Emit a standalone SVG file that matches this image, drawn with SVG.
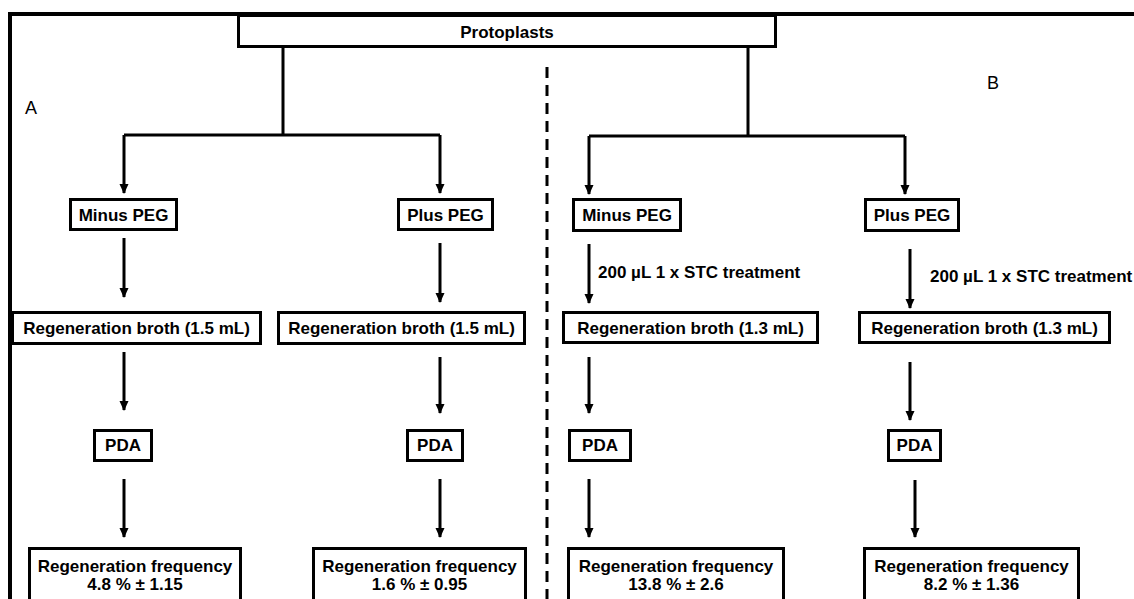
<svg xmlns="http://www.w3.org/2000/svg" width="1134" height="599" viewBox="0 0 1134 599">
<style>
.box{fill:#fff;stroke:#000;stroke-width:3}
.t{font-family:"Liberation Sans",Arial,sans-serif;font-weight:bold;font-size:17px;fill:#000}
.c{text-anchor:middle}
.lbl{font-family:"Liberation Sans",Arial,sans-serif;font-size:18px;fill:#000}
.ln{fill:none;stroke:#000;stroke-width:3}
.ar{fill:none;stroke:#000;stroke-width:3;marker-end:url(#ah)}
</style>
<defs>
<marker id="ah" markerUnits="userSpaceOnUse" markerWidth="10" markerHeight="10" viewBox="0 0 10 10" refX="9" refY="5" orient="auto">
<path d="M0,0.5 L10,5 L0,9.5 Z" fill="#000"/>
</marker>
</defs>
<rect width="1134" height="599" fill="#fff"/>
<g id="frame">
<path d="M10,599 V14 H1134" fill="none" stroke="#000" stroke-width="4"/>
<line x1="547" y1="67" x2="547" y2="599" stroke="#000" stroke-width="3" stroke-dasharray="11 7"/>
<text class="lbl" x="25" y="114">A</text>
<text class="lbl" x="987" y="89">B</text>
</g>
<g id="connectors">
<path class="ln" d="M283,47 V135 M124,135 H440 M748,47 V136 M589,136 H905"/>
<line class="ar" x1="124" y1="135" x2="124" y2="193"/>
<line class="ar" x1="440" y1="135" x2="440" y2="193"/>
<line class="ar" x1="589" y1="136" x2="589" y2="194"/>
<line class="ar" x1="905" y1="136" x2="905" y2="194"/>
<line class="ar" x1="124" y1="238" x2="124" y2="297"/>
<line class="ar" x1="440" y1="243" x2="440" y2="302"/>
<line class="ar" x1="589" y1="244" x2="589" y2="303"/>
<line class="ar" x1="910" y1="249" x2="910" y2="308"/>
<line class="ar" x1="124" y1="352" x2="124" y2="410"/>
<line class="ar" x1="440" y1="357" x2="440" y2="413"/>
<line class="ar" x1="589" y1="357" x2="589" y2="413"/>
<line class="ar" x1="910" y1="362" x2="910" y2="420"/>
<line class="ar" x1="124" y1="479" x2="124" y2="537"/>
<line class="ar" x1="440" y1="479" x2="440" y2="537"/>
<line class="ar" x1="589" y1="479" x2="589" y2="537"/>
<line class="ar" x1="915" y1="480" x2="915" y2="537"/>
<text class="t" x="598" y="278">200 µL 1 x STC treatment</text>
<text class="t" x="930" y="282">200 µL 1 x STC treatment</text>
</g>
<g id="protoplasts"><rect class="box" x="238.5" y="15.5" width="537" height="31"/><text class="t c" x="507" y="38">Protoplasts</text></g>
<g id="a-minus-peg"><rect class="box" x="70.5" y="199.5" width="106" height="30"/><text class="t c" x="123.5" y="221">Minus PEG</text></g>
<g id="a-plus-peg"><rect class="box" x="398.5" y="199.5" width="94" height="30"/><text class="t c" x="445.5" y="221">Plus PEG</text></g>
<g id="b-minus-peg"><rect class="box" x="573.5" y="199.5" width="107" height="31"/><text class="t c" x="627" y="221">Minus PEG</text></g>
<g id="b-plus-peg"><rect class="box" x="865.5" y="199.5" width="93" height="31"/><text class="t c" x="912" y="221">Plus PEG</text></g>
<g id="a-broth-1"><rect class="box" x="12.5" y="312.5" width="248" height="31"/><text class="t c" x="136.5" y="334">Regeneration broth (1.5 mL)</text></g>
<g id="a-broth-2"><rect class="box" x="278.5" y="312.5" width="246" height="31"/><text class="t c" x="401.5" y="334">Regeneration broth (1.5 mL)</text></g>
<g id="b-broth-1"><rect class="box" x="563.5" y="312.5" width="254" height="30"/><text class="t c" x="690.5" y="334">Regeneration broth (1.3 mL)</text></g>
<g id="b-broth-2"><rect class="box" x="859.5" y="312.5" width="250" height="30"/><text class="t c" x="984.5" y="334">Regeneration broth (1.3 mL)</text></g>
<g id="a-pda-1"><rect class="box" x="94.5" y="430.5" width="57" height="30"/><text class="t c" x="123" y="451">PDA</text></g>
<g id="a-pda-2"><rect class="box" x="407.5" y="430.5" width="55" height="30"/><text class="t c" x="435" y="451">PDA</text></g>
<g id="b-pda-1"><rect class="box" x="569.5" y="430.5" width="61" height="30"/><text class="t c" x="600" y="451">PDA</text></g>
<g id="b-pda-2"><rect class="box" x="888.5" y="430.5" width="52" height="30"/><text class="t c" x="914.5" y="451">PDA</text></g>
<g id="a-freq-1"><rect class="box" x="29.5" y="548.5" width="211" height="60"/><text class="t c" x="135" y="572">Regeneration frequency</text><text class="t c" x="135" y="590">4.8 % ± 1.15</text></g>
<g id="a-freq-2"><rect class="box" x="313.5" y="548.5" width="212" height="60"/><text class="t c" x="419.5" y="572">Regeneration frequency</text><text class="t c" x="419.5" y="590">1.6 % ± 0.95</text></g>
<g id="b-freq-1"><rect class="box" x="568.5" y="548.5" width="215" height="60"/><text class="t c" x="676" y="572">Regeneration frequency</text><text class="t c" x="676" y="590">13.8 % ± 2.6</text></g>
<g id="b-freq-2"><rect class="box" x="864.5" y="548.5" width="214" height="60"/><text class="t c" x="971.5" y="572">Regeneration frequency</text><text class="t c" x="971.5" y="590">8.2 % ± 1.36</text></g>
</svg>
